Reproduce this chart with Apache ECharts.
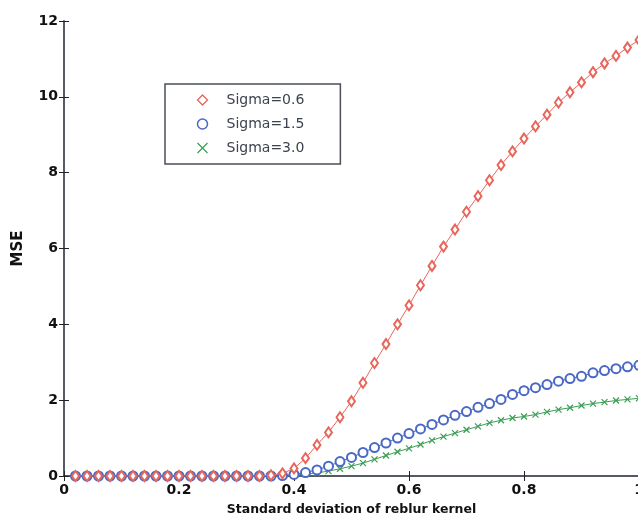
<!DOCTYPE html>
<html>
<head>
<meta charset="utf-8">
<script src="https://cdn.jsdelivr.net/npm/echarts@6/dist/echarts.min.js"></script>
<style>
  html, body { margin: 0; padding: 0; background: #fff; }
  #chart { width: 638px; height: 520px; }
</style>
</head>
<body>
<div id="chart"></div>
<script>
// x positions: std of reblur kernel, 0.02 .. 1.00
var xValues = [
  0.02, 0.04, 0.06, 0.08, 0.10, 0.12, 0.14, 0.16, 0.18, 0.20,
  0.22, 0.24, 0.26, 0.28, 0.30, 0.32, 0.34, 0.36, 0.38, 0.40,
  0.42, 0.44, 0.46, 0.48, 0.50, 0.52, 0.54, 0.56, 0.58, 0.60,
  0.62, 0.64, 0.66, 0.68, 0.70, 0.72, 0.74, 0.76, 0.78, 0.80,
  0.82, 0.84, 0.86, 0.88, 0.90, 0.92, 0.94, 0.96, 0.98, 1.00
];
// MSE, sigma = 0.6
var mse06 = [
  0, 0, 0, 0, 0, 0, 0, 0, 0, 0,
  0, 0, 0, 0, 0, 0, 0, 0.02, 0.07, 0.2,
  0.47, 0.82, 1.15, 1.55, 1.97, 2.46, 2.98, 3.48, 4.0, 4.5,
  5.03, 5.54, 6.05, 6.5, 6.97, 7.38, 7.8, 8.2, 8.56, 8.9,
  9.22, 9.53, 9.85, 10.12, 10.38, 10.65, 10.88, 11.08, 11.3, 11.5
];
// MSE, sigma = 1.5
var mse15 = [
  0, 0, 0, 0, 0, 0, 0, 0, 0, 0,
  0, 0, 0, 0, 0, 0, 0, 0, 0.01, 0.04,
  0.09, 0.16, 0.26, 0.38, 0.49, 0.62, 0.75, 0.87, 1.0, 1.12,
  1.24, 1.36, 1.48, 1.6, 1.7, 1.81, 1.91, 2.02, 2.15, 2.25,
  2.33, 2.41, 2.5, 2.57, 2.63, 2.72, 2.78, 2.83, 2.88, 2.92
];
// MSE, sigma = 3.0
var mse30 = [
  0, 0, 0, 0, 0, 0, 0, 0, 0, 0,
  0, 0, 0, 0, 0, 0, 0, 0, 0, 0.02,
  0.05, 0.08, 0.13, 0.19, 0.26, 0.34, 0.44, 0.54, 0.64, 0.73,
  0.83, 0.94, 1.04, 1.13, 1.22, 1.31, 1.4, 1.47, 1.53, 1.57,
  1.62, 1.69, 1.75, 1.8, 1.86, 1.91, 1.95, 1.99, 2.02, 2.05
];
var seriesNames = ['Sigma=0.6', 'Sigma=1.5', 'Sigma=3.0'];

var red = '#e8655a';
var blue = '#4a68c4';
var green = '#3a9e55';
var axisColor = '#4a4f58';
var crossPath = 'path://M0,0L10,10M10,0L0,10';

var pairs = function(ys) {
  return xValues.map(function(x, i) { return [x, ys[i]]; });
};

var chart = echarts.init(document.getElementById('chart'));

var tickLabel = {
  color: '#111',
  fontFamily: 'DejaVu Sans',
  fontWeight: 'bold',
  fontSize: 14
};

var option = {
  animation: false,
  backgroundColor: '#fff',
  grid: { left: 64, top: 21, width: 575, height: 455, outerBoundsMode: 'none', containLabel: false },
  legend: {
    orient: 'vertical',
    left: 165,
    top: 84,
    padding: [8, 36, 8, 30],
    itemGap: 8,
    itemWidth: 10,
    itemHeight: 10,
    borderColor: axisColor,
    borderWidth: 1.5,
    backgroundColor: '#fff',
    textStyle: {
      color: '#3c4250',
      fontFamily: 'DejaVu Sans',
      fontSize: 14,
      lineHeight: 16,
      padding: [0, 0, 0, 14]
    },
    data: [
      { name: seriesNames[0], icon: 'diamond', itemStyle: { color: '#fff', borderColor: red, borderWidth: 1.3 } },
      { name: seriesNames[1], icon: 'circle', itemStyle: { color: '#fff', borderColor: blue, borderWidth: 1.5 } },
      { name: seriesNames[2], icon: crossPath, itemStyle: { color: 'none', borderColor: green, borderWidth: 1.2 } }
    ]
  },
  xAxis: [
    {
      type: 'value', min: 0, max: 1, interval: 0.2,
      name: 'Standard deviation of reblur kernel',
      nameLocation: 'middle',
      nameGap: 27,
      nameTextStyle: { color: '#111', fontFamily: 'DejaVu Sans', fontWeight: 'bold', fontSize: 12.5 },
      axisLine: { lineStyle: { color: axisColor, width: 1.5 } },
      axisTick: { inside: true, length: 5, lineStyle: { color: '#222' } },
      axisLabel: Object.assign({ margin: 7, formatter: function(v) { return String(Math.round(v * 10) / 10); } }, tickLabel),
      splitLine: { show: false }
    },
    {
      type: 'value', min: 0, max: 1, interval: 0.2, position: 'top',
      axisLine: { lineStyle: { color: axisColor, width: 1.5 } },
      axisTick: { inside: true, length: 5, lineStyle: { color: '#222' } },
      axisLabel: { show: false },
      splitLine: { show: false }
    }
  ],
  yAxis: [
    {
      type: 'value', min: 0, max: 12, interval: 2,
      name: 'MSE',
      nameLocation: 'middle',
      nameGap: 38,
      nameTextStyle: { color: '#111', fontFamily: 'DejaVu Sans', fontWeight: 'bold', fontSize: 15 },
      axisLine: { show: true, lineStyle: { color: axisColor, width: 1.5 } },
      axisTick: { show: true, inside: true, length: 5, lineStyle: { color: '#222' } },
      axisLabel: Object.assign({ margin: 6 }, tickLabel),
      splitLine: { show: false }
    },
    {
      type: 'value', min: 0, max: 12, interval: 2, position: 'right',
      axisLine: { show: true, lineStyle: { color: axisColor, width: 1.5 } },
      axisTick: { show: true, inside: true, length: 5, lineStyle: { color: '#222' } },
      axisLabel: { show: false },
      splitLine: { show: false }
    }
  ],
  series: [
    {
      name: seriesNames[0], type: 'line', data: pairs(mse06),
      symbol: 'emptyDiamond', symbolSize: [7, 10],
      lineStyle: { color: red, width: 1 },
      itemStyle: { color: red, borderColor: red, borderWidth: 1 },
      z: 4
    },
    {
      name: seriesNames[1], type: 'line', data: pairs(mse15),
      symbol: 'emptyCircle', symbolSize: 9,
      lineStyle: { color: blue, width: 1 },
      itemStyle: { color: blue, borderColor: blue, borderWidth: 1.2 },
      z: 3
    },
    {
      name: seriesNames[2], type: 'line', data: pairs(mse30),
      symbol: crossPath, symbolSize: 6,
      lineStyle: { color: green, width: 1 },
      itemStyle: { color: 'none', borderColor: green, borderWidth: 1.2 },
      z: 2
    }
  ]
};

option && chart.setOption(option);
</script>
</body>
</html>
